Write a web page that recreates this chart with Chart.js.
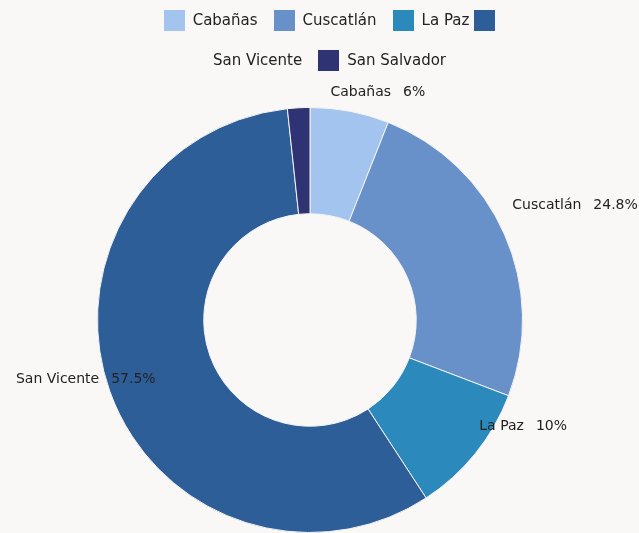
<!DOCTYPE html>
<html>
<head>
<meta charset="utf-8">
<script src="https://cdn.jsdelivr.net/npm/chart.js@4/dist/chart.umd.min.js"></script>
<style>
  html, body { margin: 0; padding: 0; background: #f9f8f7; }
  #wrap { position: relative; width: 639px; height: 533px; }
  #legend { position: absolute; left: 20px; top: 0; width: 619px; font-family: "DejaVu Sans", sans-serif; font-size: 15px; color: #222; }
  .row { display: flex; justify-content: center; align-items: center; height: 40px; }
  .box { width: 21px; height: 21px; display: inline-block; }
  .lbl { margin-left: 8px; margin-right: 16px; white-space: nowrap; }
  .lbl.tight { margin-right: 5px; }
  .row2 .lbl:first-child { margin-left: 0; }
  .row .lbl:last-child { margin-right: 0; }
</style>
</head>
<body>
<div id="wrap">
  <canvas id="donutChart" width="639" height="533"></canvas>
  <div id="legend"></div>
</div>
<script>
// ===============================
// DATOS
// ===============================
const departamentos = ['Cabañas', 'Cuscatlán', 'La Paz', 'San Vicente', 'San Salvador'];
const porcentajes = [6, 24.8, 10, 57.5, 1.7];
const colores = ['#a2c4ef', '#6891c9', '#2b89bb', '#2d5e98', '#2f3373'];
// ajuste fino de la posicion de cada etiqueta
const labelNudge = [[-22, -5], [-5, -23], [-7, -36], [59, -17], null];

// ===============================
// LEYENDA (html, con el salto de linea del original)
// ===============================
const legend = document.getElementById('legend');
const row1 = document.createElement('div');
row1.className = 'row';
const row2 = document.createElement('div');
row2.className = 'row row2';
departamentos.forEach((d, i) => {
  const box = document.createElement('span');
  box.className = 'box';
  box.style.background = colores[i];
  const lbl = document.createElement('span');
  lbl.className = 'lbl';
  lbl.textContent = d;
  if (i < 3) {
    if (i === 2) lbl.classList.add('tight');
    row1.appendChild(box); row1.appendChild(lbl);
  }
  else if (i === 3) { row1.appendChild(box); row2.appendChild(lbl); }
  else { row2.appendChild(box); row2.appendChild(lbl); }
});
legend.appendChild(row1);
legend.appendChild(row2);

// ===============================
// ETIQUETAS FUERA DEL ANILLO
// ===============================
const outsideLabels = {
  id: 'outsideLabels',
  afterDatasetsDraw(chart) {
    const ctx = chart.ctx;
    const meta = chart.getDatasetMeta(0);
    const gap = 12;
    ctx.save();
    ctx.font = '14px "DejaVu Sans", sans-serif';
    ctx.fillStyle = '#222';
    ctx.textBaseline = 'middle';
    meta.data.forEach((arc, i) => {
      const nudge = labelNudge[i];
      if (!nudge) return;
      const mid = (arc.startAngle + arc.endAngle) / 2;
      const r = arc.outerRadius + 14;
      const x = arc.x + Math.cos(mid) * r + nudge[0];
      const y = arc.y + Math.sin(mid) * r + nudge[1];
      const name = departamentos[i];
      const pct = porcentajes[i] + '%';
      ctx.textAlign = 'left';
      if (Math.cos(mid) >= 0) {
        ctx.fillText(name, x, y);
        ctx.fillText(pct, x + ctx.measureText(name).width + gap, y);
      } else {
        const pw = ctx.measureText(pct).width;
        const nw = ctx.measureText(name).width;
        ctx.fillText(pct, x - pw, y);
        ctx.fillText(name, x - pw - gap - nw, y);
      }
    });
    ctx.restore();
  }
};

const donutCtx = document.getElementById('donutChart').getContext('2d');
const donutChart = new Chart(donutCtx, {
  type: 'doughnut',
  data: {
    labels: departamentos,
    datasets: [{
      data: porcentajes,
      backgroundColor: colores,
      borderColor: '#f4f3f2',
      borderWidth: 1,
    }]
  },
  options: {
    responsive: false,
    animation: false,
    cutout: '50%',
    layout: { padding: { left: 97, right: 116, top: 107, bottom: 0 } },
    plugins: {
      legend: { display: false },
      tooltip: { enabled: false },
    },
  },
  plugins: [outsideLabels],
});
</script>
</body>
</html>
